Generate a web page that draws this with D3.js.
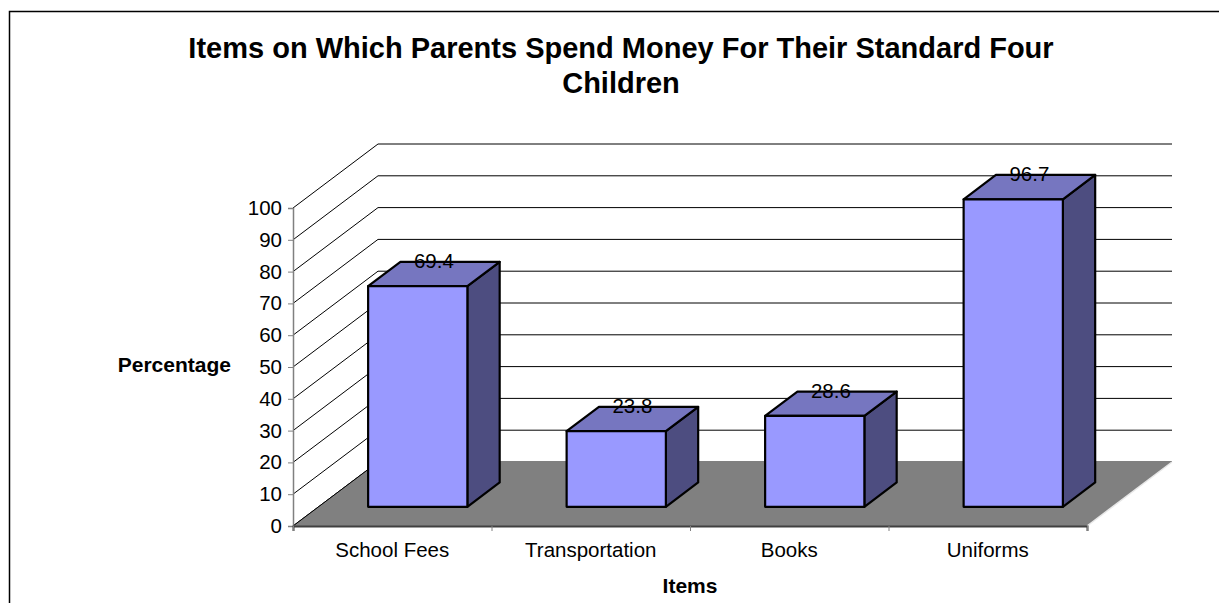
<!DOCTYPE html>
<html>
<head>
<meta charset="utf-8">
<script src="https://cdn.jsdelivr.net/npm/d3@7"></script>
<style>
  body { margin: 0; background: #fff; }
  svg { display: block; }
  text { font-family: "Liberation Sans", Arial, sans-serif; fill: #000; }
</style>
</head>
<body>
<svg id="chart" width="1219" height="603"></svg>
<script>
// Chart data
const categories = ["School Fees", "Transportation", "Books", "Uniforms"];
const values = [69.4, 23.8, 28.6, 96.7];
const yTicks = [0, 10, 20, 30, 40, 50, 60, 70, 80, 90, 100];
const titleLines = ["Items on Which Parents Spend Money For Their Standard Four", "Children"];
const xTitle = "Items";
const yTitle = "Percentage";

const svg = d3.select("#chart");

// Front plane of the plot and oblique depth vector
const plotLeft = 293, plotRight = 1087, plotBottom = 526, plotTop = 208;
const depth = { x: 85, y: -64 };
const barZ0 = 0.3, barZ1 = 0.68;

const y = d3.scaleLinear().domain([0, 100]).range([plotBottom, plotTop]);
const x = d3.scaleBand().domain(categories).range([plotLeft, plotRight])
  .paddingInner(0.5).paddingOuter(0.25);
const xEdge = d3.scaleLinear().domain([0, categories.length]).range([plotLeft, plotRight]);

// project a point (px, value, z) onto the screen
const P = (px, v, z) => [px + depth.x * z, y(v) + depth.y * z];
const poly = pts => "M" + pts.map(p => p.join(",")).join("L") + "Z";

// outer chart-area frame
svg.append("rect").attr("x", 9.5).attr("y", 11.5).attr("width", 1240).attr("height", 620)
  .attr("fill", "none").attr("stroke", "#000").attr("stroke-width", 1.5);

// title
svg.append("text").attr("x", 621).attr("y", 58).attr("text-anchor", "middle")
  .style("font-size", "29px").style("font-weight", "bold")
  .selectAll("tspan").data(titleLines).join("tspan")
  .attr("x", 621).attr("dy", (d, i) => i ? 35 : 0).text(d => d);

// gridlines: side wall diagonal + back wall horizontal
const grid = svg.append("g").attr("stroke", "#000").attr("stroke-width", 1).attr("fill", "none");
grid.selectAll("path").data(yTicks).join("path")
  .attr("d", v => {
    const a = P(plotLeft, v, 0), b = P(plotLeft, v, 1), c = P(plotRight, v, 1);
    return "M" + a + "L" + b + "L" + c;
  });

// floor
const floorPts = [P(plotLeft, 0, 0), P(plotRight, 0, 0), P(plotRight, 0, 1), P(plotLeft, 0, 1)];
svg.append("path").attr("d", poly(floorPts)).attr("fill", "#808080").attr("stroke", "none");
svg.append("line")
  .attr("x1", floorPts[1][0]).attr("y1", floorPts[1][1])
  .attr("x2", floorPts[2][0]).attr("y2", floorPts[2][1])
  .attr("stroke", "#e8e8e8").attr("stroke-width", 1.5);
svg.append("line")
  .attr("x1", floorPts[0][0]).attr("y1", floorPts[0][1])
  .attr("x2", floorPts[3][0]).attr("y2", floorPts[3][1])
  .attr("stroke", "#000").attr("stroke-width", 1);

// bars
const bars = svg.append("g").selectAll("g").data(values).join("g");
const face = (sel, fn, fill) => sel.append("path")
  .attr("d", (v, i) => poly(fn(v, x(categories[i]), x.bandwidth())))
  .attr("fill", fill).attr("stroke", "#000").attr("stroke-width", 2.2)
  .attr("stroke-linejoin", "round");
// side
face(bars, (v, x0, w) => [P(x0 + w, 0, barZ0), P(x0 + w, 0, barZ1), P(x0 + w, v, barZ1), P(x0 + w, v, barZ0)], "#4d4d80");
// top
face(bars, (v, x0, w) => [P(x0, v, barZ0), P(x0 + w, v, barZ0), P(x0 + w, v, barZ1), P(x0, v, barZ1)], "#7676c0");
// front
face(bars, (v, x0, w) => [P(x0, 0, barZ0), P(x0 + w, 0, barZ0), P(x0 + w, v, barZ0), P(x0, v, barZ0)], "#9999ff");

// value labels at the centre of each top face
svg.append("g").selectAll("text").data(values).join("text")
  .attr("x", (v, i) => P(x(categories[i]) + x.bandwidth() / 2, v, (barZ0 + barZ1) / 2)[0])
  .attr("y", (v, i) => P(0, v, barZ1)[1] + 6)
  .attr("text-anchor", "middle").style("font-size", "20.5px")
  .text(v => v.toFixed(1));

// left value axis
const yAxis = svg.append("g").attr("transform", `translate(${plotLeft},0)`)
  .call(d3.axisLeft(y).tickValues(yTicks).tickSize(5).tickPadding(6).tickFormat(d3.format("d")));
yAxis.select(".domain").attr("stroke", "#808080").attr("stroke-width", 1.5);
yAxis.selectAll(".tick line").attr("stroke", "#808080");
yAxis.selectAll("text").style("font-size", "20.5px").style("font-family", "'Liberation Sans', Arial, sans-serif");

// bottom category axis: tick marks at band edges, labels at band centres
const xTicksG = svg.append("g").attr("transform", `translate(0,${plotBottom})`)
  .call(d3.axisBottom(xEdge).tickValues(d3.range(categories.length + 1)).tickSize(5).tickFormat(""));
xTicksG.select(".domain").attr("stroke", "#404040").attr("stroke-width", 2);
xTicksG.selectAll(".tick line").attr("stroke", "#808080");
const xLabels = svg.append("g").attr("transform", `translate(0,${plotBottom})`)
  .call(d3.axisBottom(x).tickSize(0).tickPadding(16));
xLabels.select(".domain").remove();
xLabels.selectAll("text").style("font-size", "20.5px").style("font-family", "'Liberation Sans', Arial, sans-serif");

// axis titles
svg.append("text").attr("x", 690).attr("y", 593).attr("text-anchor", "middle")
  .style("font-size", "21px").style("font-weight", "bold").text(xTitle);
svg.append("text").attr("x", 231).attr("y", 372).attr("text-anchor", "end")
  .style("font-size", "21px").style("font-weight", "bold").text(yTitle);
</script>
</body>
</html>
